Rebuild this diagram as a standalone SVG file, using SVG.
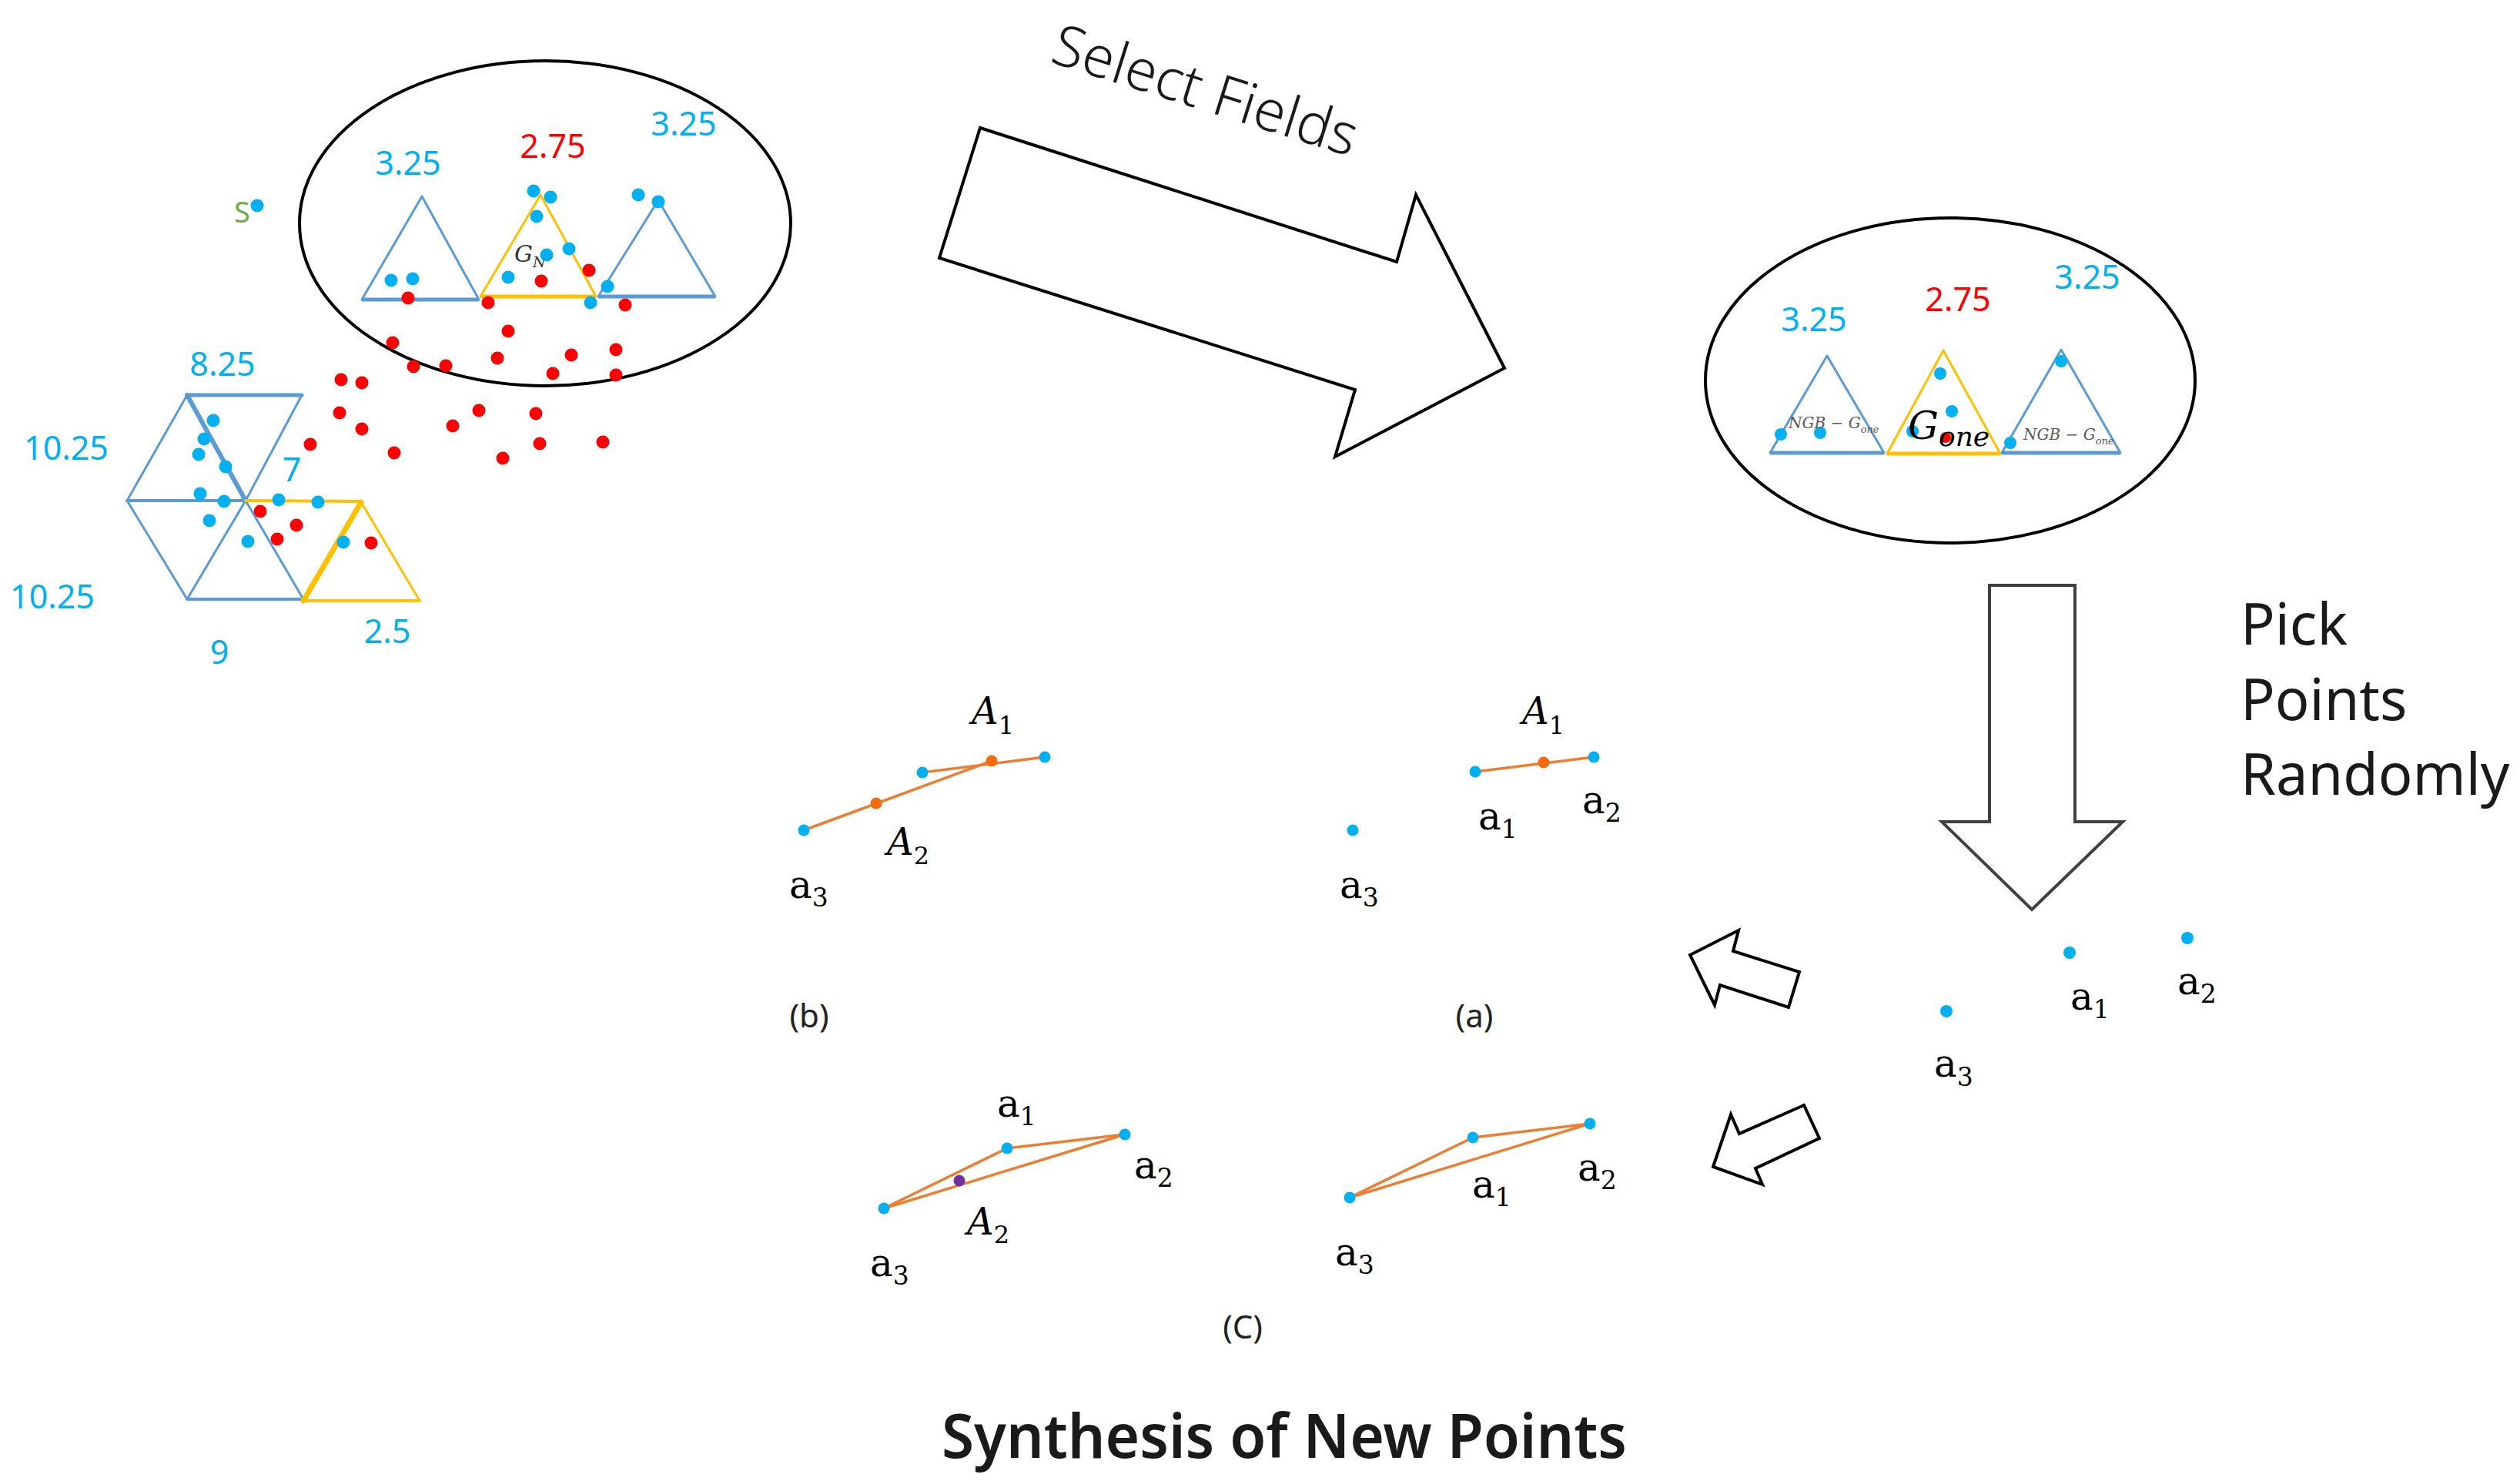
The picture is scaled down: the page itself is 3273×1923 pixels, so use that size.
<svg xmlns="http://www.w3.org/2000/svg" width="3273" height="1923" viewBox="0 0 3273 1923">
<style>
.bd{fill:#00B0F0}
.rd{fill:#FF0000}
.od{fill:#F26B0F}
.pd{fill:#7030A0}
.tb{fill:none;stroke:#5B9BD5;stroke-width:3;stroke-linejoin:round}
.ty{fill:none;stroke:#FFC000;stroke-width:3;stroke-linejoin:round}
.ol{fill:none;stroke:#ED7D31;stroke-width:3.5;stroke-linecap:round}
.ell{fill:none;stroke:#000;stroke-width:4}
.hol{fill:#fff;stroke:#000;stroke-width:4;stroke-linejoin:miter}
.num{font-family:"Noto Sans","Open Sans",sans-serif;font-size:43px;text-anchor:middle}
.cy{fill:#00B0F0}
.rt{fill:#FF0000}
.m{font-family:"DejaVu Serif","Liberation Serif",serif;font-size:50px;fill:#000}
.ms{font-size:33px}
.mi{font-family:"DejaVu Serif","Liberation Serif",serif;font-style:italic;font-size:48px;fill:#000}
.lbl{font-family:"Noto Sans","Open Sans",sans-serif;font-size:42px;fill:#222;text-anchor:middle}
.big{font-family:"Noto Sans","Open Sans",sans-serif;fill:#1a1a1a}
</style>

<!-- Left ellipse -->
<g id="field-left">
  <ellipse class="ell" cx="708" cy="290" rx="319" ry="211"/>
  <polygon class="tb" points="470,389 548,255 622,389"/>
  <line x1="470" y1="389" x2="622" y2="389" stroke="#5B9BD5" stroke-width="5"/>
  <polygon class="ty" points="624,385 702,253 774,385"/>
  <line x1="624" y1="385" x2="774" y2="385" stroke="#FFC000" stroke-width="5"/>
  <polygon class="tb" points="777,385 855,260 929,385"/>
  <line x1="777" y1="385" x2="929" y2="385" stroke="#5B9BD5" stroke-width="5"/>
  <text class="num cy" x="530" y="227">3.25</text>
  <text class="num rt" x="718" y="205">2.75</text>
  <text class="num cy" x="888" y="176">3.25</text>
  <text font-family="DejaVu Serif, serif" font-style="italic" fill="#333" font-size="30" x="668" y="340">G<tspan font-size="19" dy="7">N</tspan></text>
</g>

<g id="seed-s">
  <text font-family="Noto Sans, sans-serif" font-size="38" fill="#70AD47" x="304" y="289">S</text>
  <circle class="bd" cx="334" cy="267" r="8.5"/>
</g>

<!-- Hexagon of triangles -->
<g id="hexagon">
  <g stroke="#5B9BD5" stroke-linecap="round" fill="none">
    <line x1="243" y1="513" x2="392" y2="513" stroke-width="5"/>
    <line x1="243" y1="513" x2="165" y2="650" stroke-width="3"/>
    <line x1="243" y1="513" x2="319" y2="650" stroke-width="6"/>
    <line x1="392" y1="513" x2="319" y2="650" stroke-width="3"/>
    <line x1="165" y1="650" x2="319" y2="650" stroke-width="4"/>
    <line x1="165" y1="650" x2="243" y2="778" stroke-width="3"/>
    <line x1="243" y1="778" x2="319" y2="650" stroke-width="3"/>
    <line x1="319" y1="650" x2="394" y2="778" stroke-width="3"/>
    <line x1="243" y1="778" x2="394" y2="778" stroke-width="4"/>
  </g>
  <g stroke="#FFC000" stroke-linecap="round" fill="none">
    <line x1="319" y1="650" x2="469" y2="651" stroke-width="4"/>
    <line x1="469" y1="652" x2="394" y2="780" stroke-width="7"/>
    <line x1="469" y1="652" x2="545" y2="780" stroke-width="3"/>
    <line x1="394" y1="780" x2="545" y2="780" stroke-width="4"/>
  </g>
  <text class="num cy" x="289" y="488">8.25</text>
  <text class="num cy" x="86" y="597">10.25</text>
  <text class="num cy" x="68" y="790">10.25</text>
  <text class="num cy" x="379" y="625">7</text>
  <text class="num cy" x="285" y="862">9</text>
  <text class="num cy" x="503" y="835">2.5</text>
</g>

<!-- Sample points -->
<g id="points-left">
  <g class="bd">
    <circle cx="693" cy="248" r="8.5"/><circle cx="715" cy="256" r="8.5"/><circle cx="697" cy="281" r="8.5"/>
    <circle cx="739" cy="323" r="8.5"/><circle cx="710" cy="331" r="8.5"/><circle cx="660" cy="360" r="8.5"/>
    <circle cx="508" cy="364" r="8.5"/><circle cx="536" cy="362" r="8.5"/><circle cx="789" cy="372" r="8.5"/>
    <circle cx="767" cy="393" r="8.5"/><circle cx="829" cy="253" r="8.5"/><circle cx="855" cy="262" r="8.5"/>
    <circle cx="277" cy="546" r="8.5"/><circle cx="265" cy="570" r="8.5"/><circle cx="258" cy="590" r="8.5"/>
    <circle cx="293" cy="606" r="8.5"/><circle cx="260" cy="641" r="8.5"/><circle cx="291" cy="651" r="8.5"/>
    <circle cx="272" cy="676" r="8.5"/><circle cx="322" cy="703" r="8.5"/><circle cx="362" cy="649" r="8.5"/>
    <circle cx="413" cy="652" r="8.5"/><circle cx="446" cy="704" r="8.5"/>
  </g>
  <g class="rd">
    <circle cx="765" cy="351" r="8.5"/><circle cx="703" cy="365" r="8.5"/><circle cx="530" cy="387" r="8.5"/>
    <circle cx="634" cy="393" r="8.5"/><circle cx="812" cy="396" r="8.5"/><circle cx="660" cy="430" r="8.5"/>
    <circle cx="510" cy="445" r="8.5"/><circle cx="537" cy="476" r="8.5"/><circle cx="579" cy="475" r="8.5"/>
    <circle cx="646" cy="465" r="8.5"/><circle cx="742" cy="461" r="8.5"/><circle cx="800" cy="454" r="8.5"/>
    <circle cx="718" cy="485" r="8.5"/><circle cx="800" cy="487" r="8.5"/><circle cx="443" cy="493" r="8.5"/>
    <circle cx="470" cy="497" r="8.5"/><circle cx="441" cy="536" r="8.5"/><circle cx="622" cy="533" r="8.5"/>
    <circle cx="696" cy="537" r="8.5"/><circle cx="470" cy="557" r="8.5"/><circle cx="588" cy="553" r="8.5"/>
    <circle cx="403" cy="577" r="8.5"/><circle cx="512" cy="588" r="8.5"/><circle cx="653" cy="595" r="8.5"/>
    <circle cx="701" cy="576" r="8.5"/><circle cx="783" cy="574" r="8.5"/>
    <circle cx="338" cy="664" r="8.5"/><circle cx="385" cy="682" r="8.5"/><circle cx="360" cy="700" r="8.5"/>
    <circle cx="482" cy="705" r="8.5"/>
  </g>
</g>

<!-- Select Fields arrow -->
<g id="arrow-select">
  <polygon class="hol" stroke-width="3.5" points="1273,166 1814,340 1839,253 1954,478 1734,593 1760,506 1220,335"/>
  <text class="big" font-weight="300" font-size="74" transform="translate(1362,80) rotate(17.5)">Select Fields</text>
</g>

<!-- Right ellipse -->
<g id="field-right">
  <ellipse class="ell" cx="2533" cy="494" rx="318" ry="211"/>
  <polygon class="tb" points="2299,588 2373,462 2447,588"/>
  <line x1="2299" y1="588" x2="2447" y2="588" stroke="#5B9BD5" stroke-width="5"/>
  <polygon class="ty" points="2451,589 2524,455 2598,589"/>
  <line x1="2451" y1="589" x2="2598" y2="589" stroke="#FFC000" stroke-width="5"/>
  <polygon class="tb" points="2600,588 2677,454 2754,588"/>
  <line x1="2600" y1="588" x2="2754" y2="588" stroke="#5B9BD5" stroke-width="5"/>
  <text class="num cy" x="2356" y="430">3.25</text>
  <text class="num rt" x="2543" y="404">2.75</text>
  <text class="num cy" x="2711" y="375">3.25</text>
  <g class="bd">
    <circle cx="2313" cy="564" r="8"/><circle cx="2364" cy="562" r="8"/><circle cx="2520" cy="485" r="8"/>
    <circle cx="2535" cy="534" r="8"/><circle cx="2484" cy="560" r="8"/><circle cx="2677" cy="469" r="8"/>
    <circle cx="2611" cy="575" r="8"/>
  </g>
  <circle class="rd" cx="2527" cy="568" r="7"/>
  <text font-family="DejaVu Serif, serif" font-style="italic" fill="#595959" font-size="20" x="2323" y="556">NGB − G<tspan font-size="13" dy="6">one</tspan></text>
  <text font-family="DejaVu Serif, serif" font-style="italic" fill="#595959" font-size="20" x="2628" y="571">NGB − G<tspan font-size="13" dy="6">one</tspan></text>
  <text font-family="DejaVu Serif, serif" font-style="italic" fill="#000" font-size="50" x="2478" y="570">G<tspan font-size="36" dy="9">one</tspan></text>
</g>

<!-- Pick Points Randomly arrow -->
<g id="arrow-pick">
  <polygon fill="#fff" stroke="#404040" stroke-width="4" points="2584,760 2695,760 2695,1067 2757,1067 2639,1181 2522,1067 2584,1067"/>
  <text class="big" font-size="74" x="2910" y="837">Pick</text>
  <text class="big" font-size="74" x="2910" y="935">Points</text>
  <text class="big" font-size="74" x="2910" y="1032">Randomly</text>
</g>

<!-- Picked points -->
<g id="picked">
  <g class="bd"><circle cx="2688" cy="1237" r="8"/><circle cx="2841" cy="1218" r="8"/><circle cx="2528" cy="1313" r="8"/></g>
  <text class="m" x="2689" y="1311">a<tspan class="ms" dy="11">1</tspan></text>
  <text class="m" x="2828" y="1291">a<tspan class="ms" dy="11">2</tspan></text>
  <text class="m" x="2512" y="1398">a<tspan class="ms" dy="12">3</tspan></text>
</g>

<!-- small arrows -->
<g id="arrow-to-a">
  <polygon class="hol" points="2195,1240 2258,1208 2251,1235 2337,1262 2323,1308 2234,1279 2227,1305"/>
</g>
<g id="arrow-to-c">
  <polygon class="hol" points="2225,1515 2248,1447 2259,1472 2343,1435 2363,1478 2280,1517 2289,1538"/>
</g>

<!-- connectors (orange segments) -->
<g id="connectors">
  <line class="ol" x1="1916" y1="1002" x2="2070" y2="983"/>
  <line class="ol" x1="1198" y1="1003" x2="1357" y2="983"/>
  <line class="ol" x1="1044" y1="1078" x2="1288" y2="988"/>
  <line class="ol" x1="1148" y1="1569" x2="1308" y2="1491"/>
  <line class="ol" x1="1308" y1="1491" x2="1461" y2="1473"/>
  <line class="ol" x1="1148" y1="1569" x2="1461" y2="1473"/>
  <line class="ol" x1="1753" y1="1555" x2="1913" y2="1477"/>
  <line class="ol" x1="1913" y1="1477" x2="2065" y2="1459"/>
  <line class="ol" x1="1753" y1="1555" x2="2065" y2="1459"/>
</g>

<!-- panel (a) -->
<g id="panel-a">
  <g class="bd"><circle cx="1916" cy="1002" r="7.5"/><circle cx="2070" cy="983" r="7.5"/><circle cx="1757" cy="1078" r="7.5"/></g>
  <circle class="od" cx="2005" cy="990" r="7.5"/>
  <text class="mi" x="1977" y="940">A<tspan font-size="32" font-style="normal" dy="13">1</tspan></text>
  <text class="m" x="1920" y="1077">a<tspan class="ms" dy="11">1</tspan></text>
  <text class="m" x="2055" y="1056">a<tspan class="ms" dy="11">2</tspan></text>
  <text class="m" x="1740" y="1166">a<tspan class="ms" dy="11">3</tspan></text>
  <text class="lbl" x="1915" y="1334">(a)</text>
</g>

<!-- panel (b) -->
<g id="panel-b">
  <g class="bd"><circle cx="1044" cy="1078" r="7.5"/><circle cx="1198" cy="1003" r="7.5"/><circle cx="1357" cy="983" r="7.5"/></g>
  <circle class="od" cx="1138" cy="1043" r="7.5"/>
  <circle class="od" cx="1288" cy="988" r="7.5"/>
  <text class="mi" x="1262" y="940">A<tspan font-size="32" font-style="normal" dy="13">1</tspan></text>
  <text class="mi" x="1152" y="1110">A<tspan font-size="32" font-style="normal" dy="12">2</tspan></text>
  <text class="m" x="1025" y="1166">a<tspan class="ms" dy="11">3</tspan></text>
  <text class="lbl" x="1051" y="1334">(b)</text>
</g>

<!-- panel (c) -->
<g id="panel-c">
  <g class="bd">
    <circle cx="1148" cy="1569" r="7.5"/><circle cx="1308" cy="1491" r="7.5"/><circle cx="1461" cy="1473" r="7.5"/>
    <circle cx="1753" cy="1555" r="7.5"/><circle cx="1913" cy="1477" r="7.5"/><circle cx="2065" cy="1459" r="7.5"/>
  </g>
  <circle class="pd" cx="1246" cy="1533" r="7.5"/>
  <text class="m" x="1295" y="1450">a<tspan class="ms" dy="11">1</tspan></text>
  <text class="m" x="1473" y="1530">a<tspan class="ms" dy="11">2</tspan></text>
  <text class="mi" x="1256" y="1603">A<tspan font-size="32" font-style="normal" dy="11">2</tspan></text>
  <text class="m" x="1130" y="1657">a<tspan class="ms" dy="11">3</tspan></text>
  <text class="m" x="1912" y="1555">a<tspan class="ms" dy="11">1</tspan></text>
  <text class="m" x="2049" y="1533">a<tspan class="ms" dy="11">2</tspan></text>
  <text class="m" x="1734" y="1643">a<tspan class="ms" dy="11">3</tspan></text>
  <text class="lbl" x="1614" y="1738">(C)</text>
</g>

<g id="title">
  <text class="big" font-size="80" font-weight="600" x="1223" y="1893" textLength="890" lengthAdjust="spacingAndGlyphs">Synthesis of New Points</text>
</g>
</svg>
